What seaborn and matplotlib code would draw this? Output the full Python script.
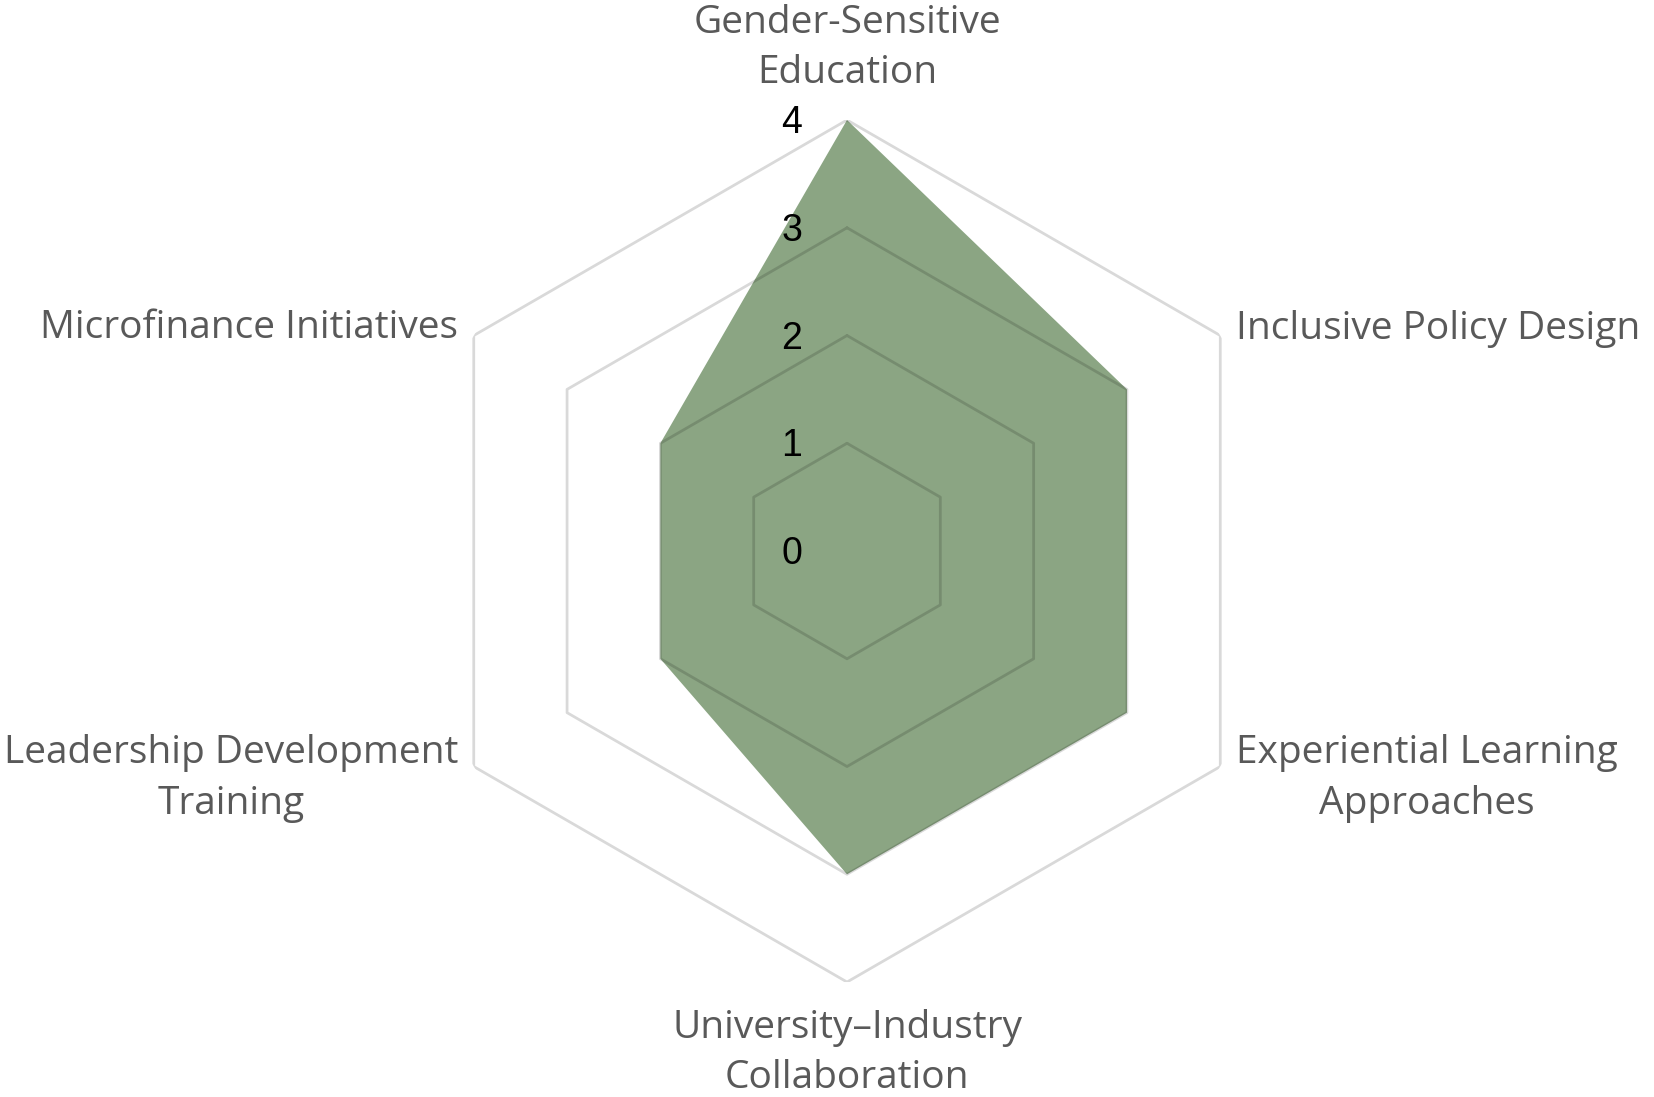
import numpy as np
import pandas as pd
import matplotlib
matplotlib.use("Agg")
import matplotlib.pyplot as plt
import seaborn as sns

categories = ["Gender-Sensitive\nEducation", "Inclusive Policy Design",
              "Experiential Learning\nApproaches", "University\u2013Industry\nCollaboration",
              "Leadership Development\nTraining", "Microfinance Initiatives"]
scores = [4, 3, 3, 3, 2, 2]
rings = [0, 1, 2, 3, 4]

sns.set_theme(style="white")
plt.rcParams["font.family"] = ["Open Sans", "DejaVu Sans"]

df = pd.DataFrame({"category": categories, "score": scores})
n = len(df)
angles = np.linspace(0, 2 * np.pi, n, endpoint=False)
theta = np.append(angles, angles[0])
r = np.append(df["score"].values, df["score"].values[0])

fig = plt.figure(figsize=(16.54, 10.97), dpi=100)
ax = fig.add_axes([0.2515, 0.1048, 0.5212, 0.7858], projection="polar")
ax.set_theta_zero_location("N")
ax.set_theta_direction(-1)
ax.set_ylim(0, 4)
ax.grid(False)
ax.spines["polar"].set_visible(False)
ax.set_xticks([])
ax.set_yticks([])

ax.fill(theta, r, color="#8ba583", lw=0, zorder=2)

# hexagonal grid rings, faint black so they show through the fill
for ring in rings[1:]:
    ax.plot(theta, [ring] * (n + 1), color="black", alpha=0.15, lw=2, zorder=3)

for ring in rings:
    ax.annotate(str(ring), xy=(0, ring), xytext=(-45, -3), textcoords="offset pixels",
                ha="right", va="center", fontsize=27, color="black",
                family=["Liberation Sans", "DejaVu Sans"], zorder=4)

offsets = [(0, 72, "center"), (16, 7, "left"), (16, -12, "left"),
           (0, -71, "center"), (-15, -12, "right"), (-16, 8, "right")]
for ang, lab, (dx, dy, ha) in zip(angles, df["category"], offsets):
    ax.annotate(lab, xy=(ang, 4), xytext=(dx, dy), textcoords="offset pixels",
                ha=ha, va="center", multialignment="center", fontsize=28,
                color="#595959", linespacing=1.42, annotation_clip=False)

fig.savefig("out.png", dpi=100, facecolor="white")
